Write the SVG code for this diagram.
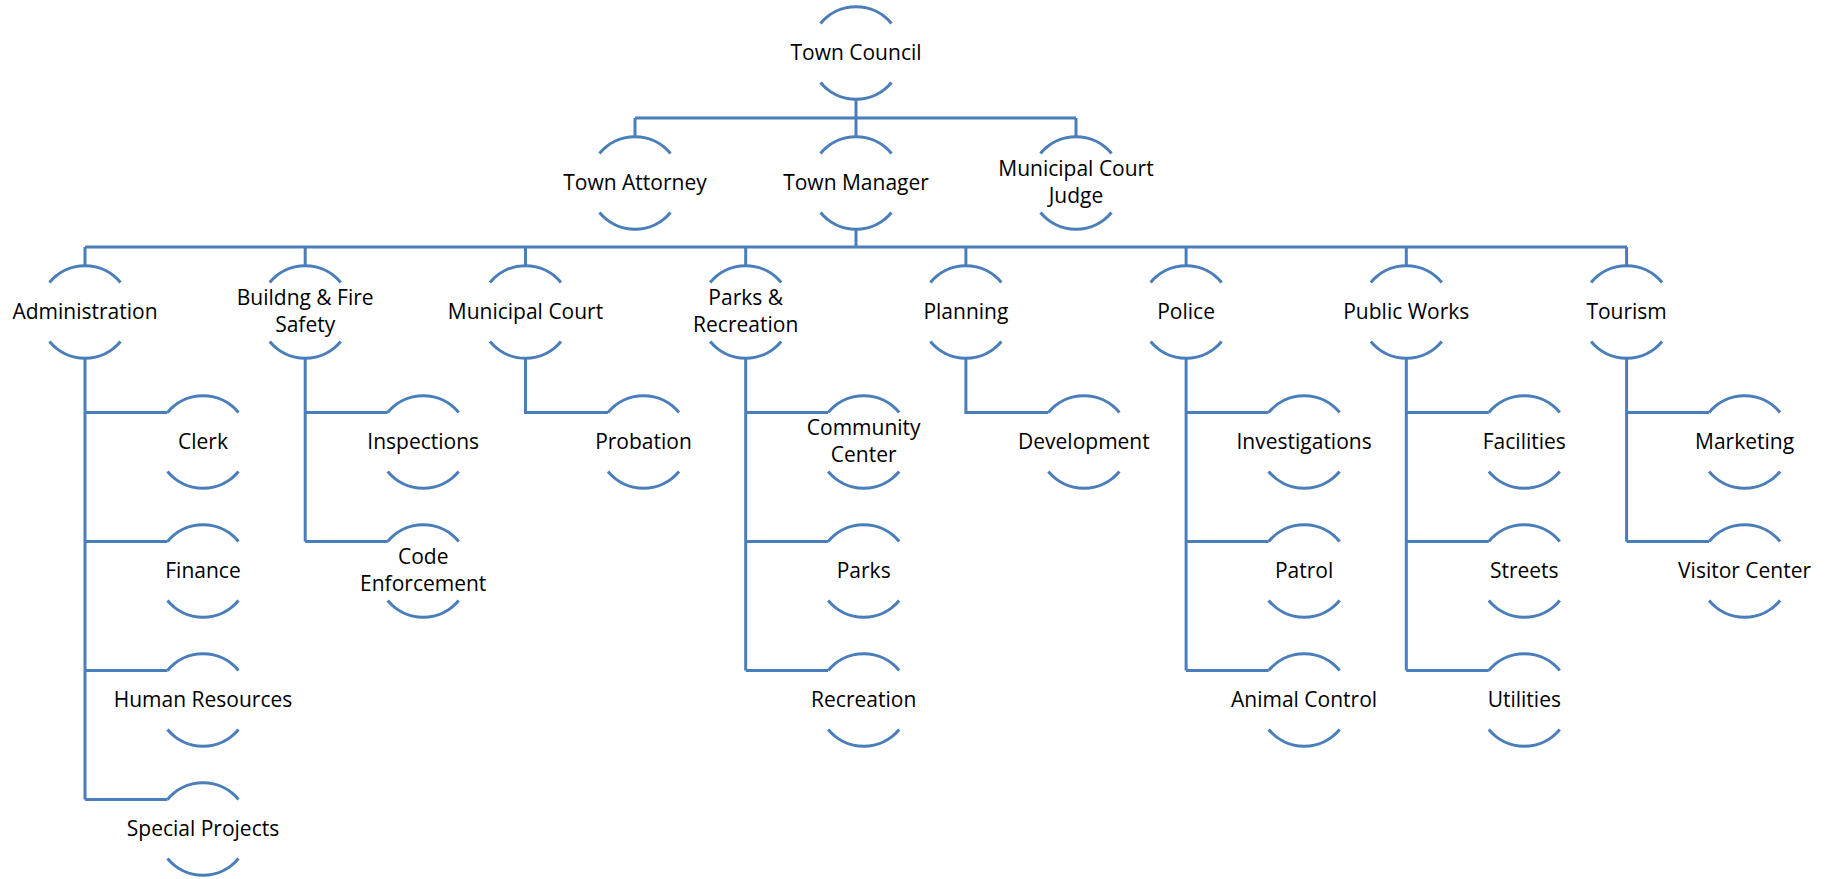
<svg xmlns="http://www.w3.org/2000/svg" xmlns:xlink="http://www.w3.org/1999/xlink" width="1835" height="879" viewBox="0 0 1835 879">
<style>
.arc{fill:none;stroke:#4A7EBB;stroke-width:3}
.ln{fill:none;stroke:#4A7EBB;stroke-width:3;stroke-linejoin:miter}
text{font-family:"Open Sans","Liberation Sans",sans-serif;font-size:21px;fill:#000;text-anchor:middle}
</style>
<defs>
<path id="node" class="arc" d="M-35.5,-29.5 A46,46 0 0 1 35.5,-29.5 M-35.5,29.5 A46,46 0 0 0 35.5,29.5"/>
</defs>
<rect width="1835" height="879" fill="#fff"/>
<g id="connectors" class="ln">
<path d="M856,99 V118 M635,118 H1076 M635,118 V137 M856,118 V137 M1076,118 V137"/>
<path d="M856,229 V247 M85,247 H1627 M85,247 V266 M305.2,247 V266 M525.5,247 V266 M745.7,247 V266 M965.9,247 V266 M1186.1,247 V266 M1406.3,247 V266 M1626.6,247 V266"/>
<path d="M85,358 V799.5 M85,412.5 H167.5 M85,541.5 H167.5 M85,670.5 H167.5 M85,799.5 H167.5"/>
<path d="M305.2,358 V541.5 M305.2,412.5 H387.7 M305.2,541.5 H387.7"/>
<path d="M525.5,358 V412.5 H608"/>
<path d="M745.7,358 V670.5 M745.7,412.5 H828.2 M745.7,541.5 H828.2 M745.7,670.5 H828.2"/>
<path d="M965.9,358 V412.5 H1048.4"/>
<path d="M1186.1,358 V670.5 M1186.1,412.5 H1268.6 M1186.1,541.5 H1268.6 M1186.1,670.5 H1268.6"/>
<path d="M1406.3,358 V670.5 M1406.3,412.5 H1488.8 M1406.3,541.5 H1488.8 M1406.3,670.5 H1488.8"/>
<path d="M1626.6,358 V541.5 M1626.6,412.5 H1709.1 M1626.6,541.5 H1709.1"/>
</g>
<g id="town-council"><use href="#node" x="856" y="53"/><text x="856" y="60">Town Council</text></g>
<g id="town-attorney"><use href="#node" x="635" y="183"/><text x="635" y="190">Town Attorney</text></g>
<g id="town-manager"><use href="#node" x="856" y="183"/><text x="856" y="190">Town Manager</text></g>
<g id="municipal-court-judge"><use href="#node" x="1076" y="183"/><text x="1076" y="176">Municipal Court</text><text x="1076" y="203">Judge</text></g>

<g id="administration"><use href="#node" x="85" y="312"/><text x="85" y="319">Administration</text></g>
<g id="building-fire-safety"><use href="#node" x="305.2" y="312"/><text x="305.2" y="305">Buildng &amp; Fire</text><text x="305.2" y="332">Safety</text></g>
<g id="municipal-court"><use href="#node" x="525.5" y="312"/><text x="525.5" y="319">Municipal Court</text></g>
<g id="parks-recreation"><use href="#node" x="745.7" y="312"/><text x="745.7" y="305">Parks &amp;</text><text x="745.7" y="332">Recreation</text></g>
<g id="planning"><use href="#node" x="965.9" y="312"/><text x="965.9" y="319">Planning</text></g>
<g id="police"><use href="#node" x="1186.1" y="312"/><text x="1186.1" y="319">Police</text></g>
<g id="public-works"><use href="#node" x="1406.3" y="312"/><text x="1406.3" y="319">Public Works</text></g>
<g id="tourism"><use href="#node" x="1626.6" y="312"/><text x="1626.6" y="319">Tourism</text></g>

<g id="clerk"><use href="#node" x="203" y="442"/><text x="203" y="449">Clerk</text></g>
<g id="finance"><use href="#node" x="203" y="571"/><text x="203" y="578">Finance</text></g>
<g id="human-resources"><use href="#node" x="203" y="700"/><text x="203" y="707">Human Resources</text></g>
<g id="special-projects"><use href="#node" x="203" y="829"/><text x="203" y="836">Special Projects</text></g>

<g id="inspections"><use href="#node" x="423.2" y="442"/><text x="423.2" y="449">Inspections</text></g>
<g id="code-enforcement"><use href="#node" x="423.2" y="571"/><text x="423.2" y="564">Code</text><text x="423.2" y="591">Enforcement</text></g>

<g id="probation"><use href="#node" x="643.5" y="442"/><text x="643.5" y="449">Probation</text></g>

<g id="community-center"><use href="#node" x="863.7" y="442"/><text x="863.7" y="435">Community</text><text x="863.7" y="462">Center</text></g>
<g id="parks"><use href="#node" x="863.7" y="571"/><text x="863.7" y="578">Parks</text></g>
<g id="recreation"><use href="#node" x="863.7" y="700"/><text x="863.7" y="707">Recreation</text></g>

<g id="development"><use href="#node" x="1083.9" y="442"/><text x="1083.9" y="449">Development</text></g>

<g id="investigations"><use href="#node" x="1304.1" y="442"/><text x="1304.1" y="449">Investigations</text></g>
<g id="patrol"><use href="#node" x="1304.1" y="571"/><text x="1304.1" y="578">Patrol</text></g>
<g id="animal-control"><use href="#node" x="1304.1" y="700"/><text x="1304.1" y="707">Animal Control</text></g>

<g id="facilities"><use href="#node" x="1524.3" y="442"/><text x="1524.3" y="449">Facilities</text></g>
<g id="streets"><use href="#node" x="1524.3" y="571"/><text x="1524.3" y="578">Streets</text></g>
<g id="utilities"><use href="#node" x="1524.3" y="700"/><text x="1524.3" y="707">Utilities</text></g>

<g id="marketing"><use href="#node" x="1744.6" y="442"/><text x="1744.6" y="449">Marketing</text></g>
<g id="visitor-center"><use href="#node" x="1744.6" y="571"/><text x="1744.6" y="578">Visitor Center</text></g>
</svg>
